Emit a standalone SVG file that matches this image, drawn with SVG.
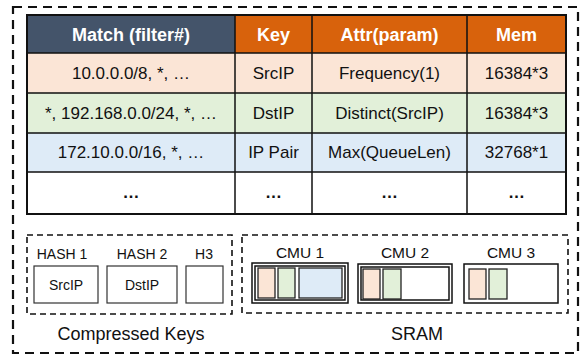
<svg xmlns="http://www.w3.org/2000/svg" width="580" height="354" viewBox="0 0 580 354">
<style>
text{font-family:"Liberation Sans",Arial,sans-serif;fill:#111;text-anchor:middle}
.h{font-weight:bold;fill:#fff;font-size:18px}
.b{font-size:17px}
.s{font-size:14px}
.c{font-size:15.5px}
.l{font-size:18px}
.grid{stroke:#111;stroke-width:1.5;fill:none}
.dash{fill:none;stroke:#111;stroke-width:1.6;stroke-dasharray:6 4}
.box{fill:#fff;stroke:#333;stroke-width:1.2}
.cm{fill:#fff;stroke:#111;stroke-width:1.5}
.in{stroke:#222;stroke-width:1.3}
</style>
<rect x="13" y="7" width="565" height="346" fill="none" stroke="#111" stroke-width="2.2" stroke-dasharray="9 6"/>
<g id="table">
<rect x="27" y="15" width="208" height="38" fill="#44546A"/>
<rect x="235" y="15" width="331" height="38" fill="#D8620C"/>
<rect x="27" y="53" width="539" height="40" fill="#FBE5D6"/>
<rect x="27" y="93" width="539" height="40" fill="#E2F0D9"/>
<rect x="27" y="133" width="539" height="39" fill="#DEEBF7"/>
<rect x="27" y="172" width="539" height="42" fill="#fff"/>
<path class="grid" d="M27 53H566M27 93H566M27 133H566M27 172H566M235 15V214M312 15V214M467 15V214"/>
<rect x="27" y="15" width="539" height="199" fill="none" stroke="#111" stroke-width="2"/>
<text class="h" x="131" y="40.5">Match (filter#)</text>
<text class="h" x="273.5" y="40.5">Key</text>
<text class="h" x="389.5" y="40.5">Attr(param)</text>
<text class="h" x="516.5" y="40.5">Mem</text>
<text class="b" x="131" y="79">10.0.0.0/8, *, …</text>
<text class="b" x="273.5" y="79">SrcIP</text>
<text class="b" x="389.5" y="79">Frequency(1)</text>
<text class="b" x="516.5" y="79">16384*3</text>
<text class="b" x="131" y="119">*, 192.168.0.0/24, *, …</text>
<text class="b" x="273.5" y="119">DstIP</text>
<text class="b" x="389.5" y="119">Distinct(SrcIP)</text>
<text class="b" x="516.5" y="119">16384*3</text>
<text class="b" x="131" y="158">172.10.0.0/16, *, …</text>
<text class="b" x="273.5" y="158">IP Pair</text>
<text class="b" x="389.5" y="158">Max(QueueLen)</text>
<text class="b" x="516.5" y="158">32768*1</text>
<text class="b" x="131" y="198" font-weight="bold">…</text>
<text class="b" x="273.5" y="198" font-weight="bold">…</text>
<text class="b" x="389.5" y="198" font-weight="bold">…</text>
<text class="b" x="516.5" y="198" font-weight="bold">…</text>
</g>
<g id="compressed-keys">
<rect class="dash" x="27" y="235" width="205" height="79"/>
<text class="s" x="62" y="259">HASH 1</text>
<text class="s" x="142" y="259">HASH 2</text>
<text class="s" x="204" y="259">H3</text>
<rect class="box" x="34" y="266" width="64" height="37"/>
<rect class="box" x="107" y="266" width="70" height="37"/>
<rect class="box" x="186" y="266" width="37" height="37"/>
<text class="s" x="66" y="289.5">SrcIP</text>
<text class="s" x="142" y="289.5">DstIP</text>
<text class="l" x="131" y="340">Compressed Keys</text>
</g>
<g id="sram">
<rect class="dash" x="242" y="235" width="326" height="78"/>
<text class="c" x="300" y="258">CMU 1</text>
<text class="c" x="405" y="258">CMU 2</text>
<text class="c" x="511" y="258">CMU 3</text>
<g id="cmu1">
<rect class="cm" x="252" y="263" width="96" height="40"/>
<rect class="cm" x="255" y="266" width="90" height="34"/>
<rect class="in" x="258" y="268" width="17" height="30" fill="#FBE5D6"/>
<rect class="in" x="278" y="268" width="17" height="30" fill="#E2F0D9"/>
<rect class="in" x="299" y="268" width="43" height="30" fill="#DEEBF7"/>
</g>
<g id="cmu2">
<rect class="cm" x="358" y="264" width="94" height="39"/>
<rect class="cm" x="361" y="267" width="88" height="33"/>
<rect class="in" x="363" y="269" width="17" height="30" fill="#FBE5D6"/>
<rect class="in" x="383" y="269" width="18" height="30" fill="#E2F0D9"/>
</g>
<g id="cmu3">
<rect class="cm" x="464" y="264" width="94" height="39"/>
<rect class="in" x="469" y="269" width="17" height="30" fill="#FBE5D6"/>
<rect class="in" x="489" y="269" width="18" height="30" fill="#E2F0D9"/>
</g>
<text class="l" x="417" y="340">SRAM</text>
</g>
</svg>
